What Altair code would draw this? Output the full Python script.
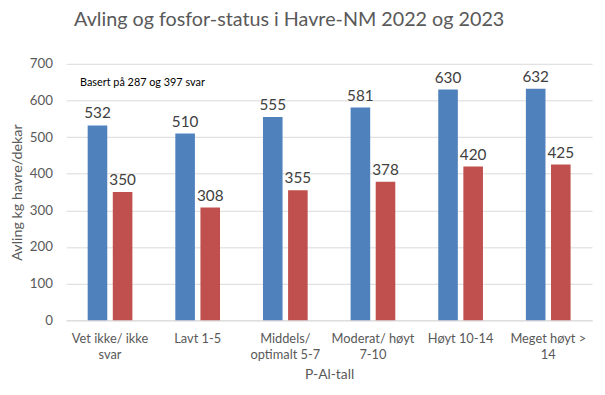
import altair as alt
import pandas as pd

categories = ["Vet ikke/ ikke\nsvar", "Lavt 1-5", "Middels/\noptimalt 5-7",
              "Moderat/ høyt\n7-10", "Høyt 10-14", "Meget høyt >\n14"]
series = ["2022", "2023"]
values_2022 = [532, 510, 555, 581, 630, 632]
values_2023 = [350, 308, 355, 378, 420, 425]
colors = ["#4f81bd", "#c0504d"]

rows = []
for c, a, b in zip(categories, values_2022, values_2023):
    rows.append({"kat": c, "serie": "2022", "verdi": a})
    rows.append({"kat": c, "serie": "2023", "verdi": b})
df = pd.DataFrame(rows)

FONT = "Lato"
GREY = "#595959"

x = alt.X("kat:N", sort=categories, title="P-Al-tall",
          scale=alt.Scale(paddingInner=0.49, paddingOuter=0.245),
          axis=alt.Axis(labelAngle=0, labelExpr="split(datum.label, '\\n')",
                        labelFontSize=13, labelColor=GREY, labelFont=FONT,
                        labelLineHeight=17, labelPadding=18, labelBaseline="middle",
                        ticks=False, domainColor="#d9d9d9",
                        titleFontSize=14, titleColor=GREY, titleFont=FONT,
                        titleFontWeight="normal", titlePadding=6))
xo = alt.XOffset("serie:N", sort=series,
                 scale=alt.Scale(paddingInner=0.22, paddingOuter=0))
y = alt.Y("verdi:Q", title="Avling kg havre/dekar",
          scale=alt.Scale(domain=[0, 700], nice=False),
          axis=alt.Axis(values=[0, 100, 200, 300, 400, 500, 600, 700],
                        domain=False, ticks=False, gridColor="#d9d9d9",
                        labelFontSize=13.5, labelColor=GREY, labelFont=FONT,
                        labelPadding=14,
                        titleFontSize=14.5, titleColor=GREY, titleFont=FONT,
                        titleFontWeight="normal", titleX=-49, titleY=130,
                        titleAngle=270, titleAlign="center",
                        titleBaseline="middle"))
color = alt.Color("serie:N", sort=series,
                  scale=alt.Scale(domain=series, range=colors), legend=None)

base = alt.Chart(df).encode(x=x, xOffset=xo, y=y)
bars = base.mark_bar().encode(color=color)
labels = base.mark_text(dy=-12, fontSize=15.5, font=FONT, color="#404040").encode(
    text="verdi:Q")

note = alt.Chart(pd.DataFrame({"t": ["Basert på 287 og 397 svar"]})).mark_text(
    align="left", baseline="middle", fontSize=11, font=FONT, color="#000000"
).encode(x=alt.value(14), y=alt.value(19), text="t:N")

chart = alt.layer(bars, labels, note).properties(
    width=533, height=260,
    title=alt.Title("Avling og fosfor-status i Havre-NM 2022 og 2023",
                    fontSize=20, font=FONT, color=GREY, fontWeight="normal",
                    anchor="start", frame="group", dx=8, offset=27),
    autosize=alt.AutoSizeParams(type="none"),
    padding={"left": 59, "top": 54, "right": 5, "bottom": 65},
).configure_view(stroke=None)

chart.save("out.html", embed_options={"renderer": "svg", "actions": False})
